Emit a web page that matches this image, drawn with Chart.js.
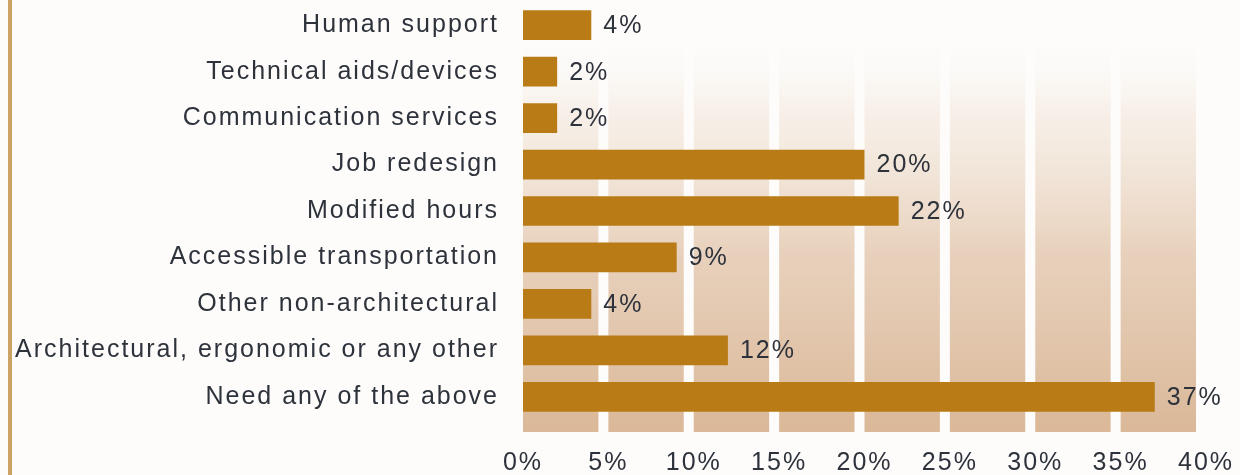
<!DOCTYPE html>
<html>
<head>
<meta charset="utf-8">
<script src="https://cdn.jsdelivr.net/npm/chart.js@4.4.1/dist/chart.umd.min.js"></script>
<style>
  html, body { margin: 0; padding: 0; background: #fdfcfb; }
  #wrap { position: relative; width: 1240px; height: 475px; }
  canvas { display: block; }
</style>
</head>
<body>
<div id="wrap"><canvas id="chart" width="1240" height="475"></canvas></div>
<script>
// Categories, top to bottom
const categories = [
  'Human support',
  'Technical aids/devices',
  'Communication services',
  'Job redesign',
  'Modified hours',
  'Accessible transportation',
  'Other non-architectural',
  'Architectural, ergonomic or any other',
  'Need any of the above'
];
// Share needing each accommodation (%)
const shares = [4, 2, 2, 20, 22, 9, 4, 12, 37];
// Axis ticks (%)
const tickValues = [0, 5, 10, 15, 20, 25, 30, 35, 40];

const TEXT = '#2d323b';
const BAR = '#b87b15';
const FONT = { family: '"Liberation Sans", Arial, sans-serif', size: 25 };
const SPACING = '2px';

// Wider letter spacing for all canvas text
const spacingPlugin = {
  id: 'spacing',
  beforeUpdate(chart) { chart.ctx.letterSpacing = SPACING; },
  beforeDraw(chart) { chart.ctx.letterSpacing = SPACING; }
};

// Page frame: rule on the left edge
const framePlugin = {
  id: 'frame',
  beforeDraw(chart) {
    const ctx = chart.ctx;
    ctx.save();
    ctx.fillStyle = '#c9a264';
    ctx.fillRect(8, 0, 4, chart.height);
    ctx.restore();
  }
};

// Shaded column bands between the 5% ticks, fading upward
const bandPlugin = {
  id: 'bands',
  beforeDatasetsDraw(chart) {
    const x = chart.scales.x;
    const ctx = chart.ctx;
    const top = 30, bottom = 432;
    const g = ctx.createLinearGradient(0, bottom, 0, top);
    g.addColorStop(0, 'rgba(218,184,152,1)');
    g.addColorStop(0.45, 'rgba(228,201,177,0.85)');
    g.addColorStop(0.8, 'rgba(240,225,210,0.45)');
    g.addColorStop(1, 'rgba(255,255,255,0)');
    ctx.save();
    ctx.fillStyle = g;
    for (let i = 0; i < tickValues.length - 1; i++) {
      const x0 = x.getPixelForValue(tickValues[i]);
      const x1 = x.getPixelForValue(tickValues[i + 1]) - 10;
      ctx.fillRect(x0, top, x1 - x0, bottom - top);
    }
    ctx.restore();
  }
};

// Value labels at the end of each bar
const valueLabelPlugin = {
  id: 'valueLabels',
  afterDatasetsDraw(chart) {
    const ctx = chart.ctx;
    const meta = chart.getDatasetMeta(0);
    ctx.save();
    ctx.letterSpacing = SPACING;
    ctx.font = FONT.size + 'px ' + FONT.family;
    ctx.fillStyle = TEXT;
    ctx.textAlign = 'left';
    ctx.textBaseline = 'middle';
    meta.data.forEach((bar, i) => {
      ctx.fillText(shares[i] + '%', bar.x + 12, bar.y + 1);
    });
    ctx.restore();
  }
};

new Chart(document.getElementById('chart'), {
  type: 'bar',
  data: {
    labels: categories,
    datasets: [{
      data: shares,
      backgroundColor: BAR,
      borderWidth: 0,
      barPercentage: 0.64,
      categoryPercentage: 1
    }]
  },
  options: {
    indexAxis: 'y',
    responsive: false,
    animation: false,
    layout: { padding: { top: 2, right: 34, left: 0, bottom: 0 } },
    plugins: { legend: { display: false }, tooltip: { enabled: false } },
    scales: {
      x: {
        min: 0,
        max: 40,
        afterBuildTicks(scale) { scale.ticks = tickValues.map(v => ({ value: v })); },
        afterFit(scale) {
          scale.height = 55;
          scale.paddingLeft = 0;
          scale.paddingRight = 0;
        },
        grid: { display: false, drawTicks: false },
        border: { display: false },
        ticks: {
          color: TEXT,
          font: FONT,
          padding: 28,
          maxRotation: 0,
          autoSkip: false,
          callback: v => v + '%'
        }
      },
      y: {
        afterFit(scale) {
          scale.width = 523;
          scale.paddingTop = 0;
          scale.paddingBottom = 0;
        },
        grid: { display: false, drawTicks: false },
        border: { display: false },
        ticks: { color: TEXT, font: FONT, padding: 24, autoSkip: false }
      }
    }
  },
  plugins: [spacingPlugin, framePlugin, bandPlugin, valueLabelPlugin]
});
</script>
</body>
</html>
